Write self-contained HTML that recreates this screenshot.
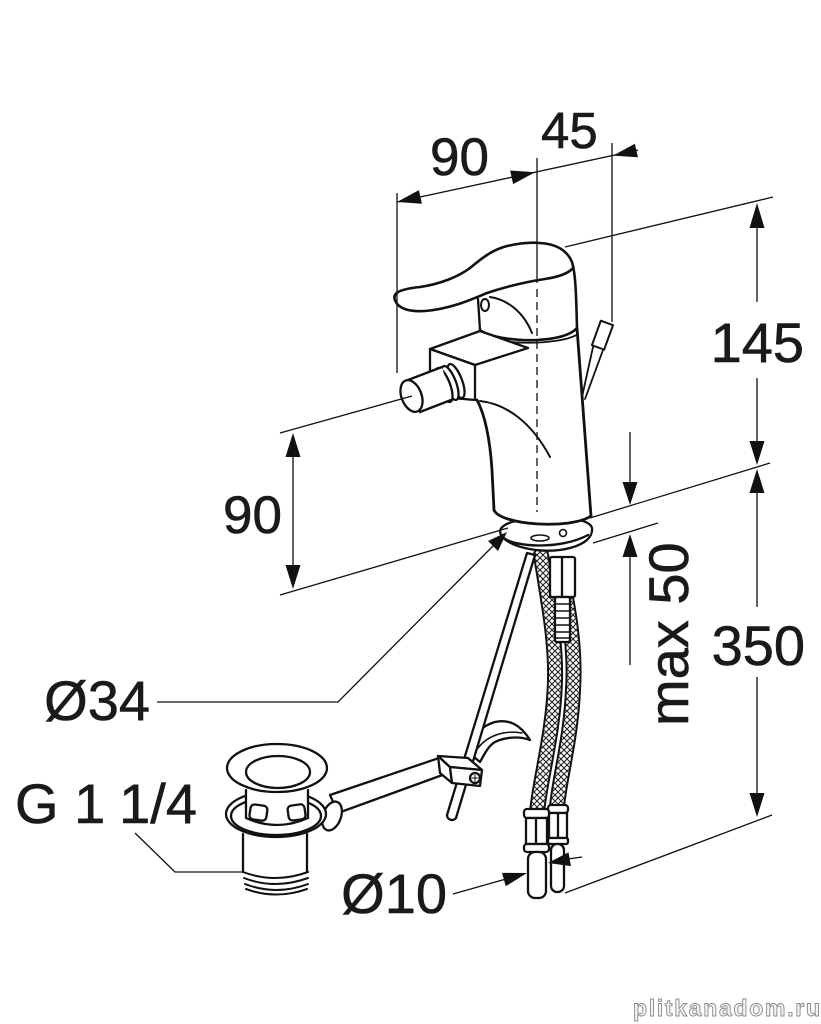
<!DOCTYPE html>
<html><head><meta charset="utf-8"><style>
html,body{margin:0;padding:0;background:#fff;}
svg{display:block}
text{font-family:"Liberation Sans",Arial,sans-serif;fill:#1a1a1a}
.lb{stroke:#1a1a1a;stroke-width:0.6}
</style></head><body>
<svg width="821" height="1024" viewBox="0 0 821 1024" xmlns="http://www.w3.org/2000/svg">
<defs>
<pattern id="hx" width="6" height="6" patternUnits="userSpaceOnUse">
<path d="M0,0L6,6M6,0L0,6" stroke="#222" stroke-width="1.1"/>
</pattern>
</defs>
<rect width="821" height="1024" fill="#fff"/>

<!-- ========== lower parts ========== -->
<g stroke="#111" stroke-width="2.3" fill="#fff" stroke-linejoin="round" stroke-linecap="round">
 <!-- hoses -->
 <path d="M566,598 C572,630 575,660 573,690 C571,740 558,785 557,808" fill="none" stroke-width="16"/>
 <path d="M566,598 C572,630 575,660 573,690 C571,740 558,785 557,808" fill="none" stroke="#fff" stroke-width="12"/>
 <path d="M566,598 C572,630 575,660 573,690 C571,740 558,785 557,808" fill="none" stroke="url(#hx)" stroke-width="12"/>
 <path d="M541,555 C548,600 556,640 555,680 C554,730 540,780 537,812" fill="none" stroke-width="16"/>
 <path d="M541,555 C548,600 556,640 555,680 C554,730 540,780 537,812" fill="none" stroke="#fff" stroke-width="12"/>
 <path d="M541,555 C548,600 556,640 555,680 C554,730 540,780 537,812" fill="none" stroke="url(#hx)" stroke-width="12"/>

 <!-- top nut and thread -->
 <rect x="550" y="557" width="25" height="40" rx="2"/>
 <line x1="562" y1="558" x2="562" y2="596"/>
 <rect x="555" y="597" width="15" height="45" rx="2"/>
 <g fill="none" stroke-width="1.6">
  <line x1="555" y1="604" x2="570" y2="604"/><line x1="555" y1="611" x2="570" y2="611"/>
  <line x1="555" y1="618" x2="570" y2="618"/><line x1="555" y1="625" x2="570" y2="625"/>
  <line x1="555" y1="632" x2="570" y2="632"/><line x1="555" y1="638" x2="570" y2="638"/>
 </g>

 <!-- bottom fittings -->
 <rect x="548" y="805" width="20" height="8" rx="3"/>
 <rect x="549" y="813" width="18" height="25"/>
 <line x1="558" y1="814" x2="558" y2="837"/>
 <rect x="548" y="838" width="20" height="6" rx="2"/>
 <rect x="551" y="844" width="13" height="48" rx="6"/>
 <rect x="524" y="809" width="25" height="9" rx="3"/>
 <rect x="526" y="818" width="21" height="26"/>
 <line x1="536" y1="819" x2="536" y2="843"/>
 <rect x="524" y="844" width="25" height="8" rx="3"/>
 <rect x="528" y="852" width="18" height="46" rx="7"/>

 <!-- clip tab -->
 <path d="M468,752 C472,738 480,726 495,722 C508,719 520,724 530,740 C520,736 505,737 495,742 C488,746 484,755 480,762 Z"/>
 <path d="M478,748 C488,735 505,730 522,733" fill="none" stroke-width="1.5"/>

 <!-- pop-up rod -->
 <path d="M527,553 L447,815 A5,5 0 0 0 456,818 L535,555 Z"/>

 <!-- horizontal rod -->
 <path d="M330,795 L442,757 L448,773 L338,813 Z"/>

 <!-- clamp -->
 <path d="M438,756 L450,767 L452,783 L440,773 Z"/>
 <path d="M438,756 L468,758 L482,770 L450,767 Z"/>
 <path d="M450,767 L482,770 L480,786 L452,783 Z"/>
 <circle cx="475" cy="778" r="5"/>
 <path d="M472,778 L478,778 M475,775 L475,781" fill="none" stroke-width="1"/>

 <!-- drain -->
 <rect x="243" y="834" width="64" height="40" stroke="none"/>
 <path d="M243,834 L243,872 M307,834 L307,872" fill="none"/>
 <path d="M243,872 Q275,884 308,872 M244,878 Q275,890 308,878 M245,884 Q276,896 308,884 M246,889 Q276,900 307,889" fill="none" stroke-width="2"/>
 <ellipse cx="332" cy="816" rx="9" ry="15" transform="rotate(20 332 816)"/>
 <ellipse cx="276" cy="814" rx="50" ry="23"/>
 <ellipse cx="276" cy="816" rx="45" ry="19" fill="none"/>
 <rect x="246" y="788" width="62" height="30" stroke="none"/>
 <path d="M246,790 L246,818 Q277,832 308,818 L308,790" fill="none"/>
 <rect x="250" y="805" width="17" height="15" rx="4" transform="rotate(8 258 812)"/>
 <rect x="288" y="805" width="17" height="15" rx="4" transform="rotate(-8 296 812)"/>
 <ellipse cx="277" cy="768" rx="50" ry="24"/>
 <ellipse cx="278" cy="772" rx="32" ry="16" fill="none"/>

 <!-- lift rod behind -->
 <path d="M593,347 L582,397 M603,350 L585,399" fill="none" stroke-width="1.8"/>
 <rect x="596" y="322" width="13" height="26" transform="rotate(20 602 335)" stroke-width="2"/>

 <!-- flange -->
 <path d="M500,531 C502,521 530,517 548,517 C570,517 590,520 592,528 C593,537 585,544 570,548 C540,556 500,545 500,531 Z"/>
 <path d="M504,538 C515,547 560,550 588,535" fill="none"/>

 <!-- body -->
 <path d="M480,330 L578,330 L591,516 C570,530 500,525 494,510 L492,470 C490,440 485,415 477,400 Z" stroke="none"/>
 <path d="M577,328 L591,516" fill="none" stroke-width="2.8"/>
 <path d="M494,510 C500,525 570,530 591,516" fill="none" stroke-width="2.8"/>
 <path d="M477,400 C485,415 490,440 492,470 L494,510" fill="none" stroke-width="2.8"/>
 <path d="M480,401 C507,404 532,423 550,457" fill="none" stroke-width="2"/>
 <ellipse cx="540" cy="538" rx="9" ry="3" fill="none" stroke-width="1.6"/>
 <circle cx="563" cy="533" r="3.5" fill="none" stroke-width="1.6"/>

 <!-- cap -->
 <path d="M478,296 L575,288 L577,328 C570,336 555,339 537,340 C520,341 490,338 480,330 Z" stroke="none"/>
 <path d="M478,299 L480,330" fill="none"/>
 <path d="M480,330 C490,338 520,341 537,340 C555,339 570,336 577,328" fill="none" stroke-width="2.6"/>
 <path d="M481,335 C495,345 560,346 578,334" fill="none" stroke-width="1.8"/>

 <!-- lever -->
 <path d="M395,300 C392,293 400,289 420,287 C440,284 458,277 470,268 C482,258 492,250 507,246 C520,243 530,242 540,243 C556,244 567,250 572,262 C575,272 576,285 577,328" fill="none" stroke-width="2.6"/>
 <path d="M395,300 C398,309 410,312 425,311 C450,309 470,300 487,293 C505,287 525,282 545,279 C558,277 568,274 573,268" fill="none" stroke-width="2.6"/>
 <ellipse cx="485" cy="305" rx="4" ry="6" stroke-width="2"/>
 <path d="M490,297 C510,300 525,315 532,333" fill="none" stroke-width="2"/>

 <!-- housing box -->
 <path d="M430,349 L480,331 L528,348 L475,365 Z"/>
 <path d="M430,349 L475,365 L475,400 L452,398 L430,370 Z"/>
 <!-- collar rings -->
 <ellipse cx="456" cy="381" rx="6" ry="18" transform="rotate(-21 456 381)"/>
 <ellipse cx="450" cy="383" rx="6" ry="18" transform="rotate(-21 450 383)"/>
 <ellipse cx="444" cy="385" rx="6" ry="18" transform="rotate(-21 444 385)"/>
 <!-- nozzle -->
 <path d="M408,380 L442,367 L451,400 L420,412 Z" stroke="none"/>
 <path d="M408,380 L442,367 M420,412 L451,400" fill="none"/>
 <ellipse cx="411.5" cy="396" rx="10" ry="16.5" transform="rotate(-21 411.5 396)"/>
</g>

<!-- ========== dimension lines ========== -->
<g stroke="#111" stroke-width="1.3" fill="none">
 <line x1="397" y1="193" x2="397" y2="373"/>
 <line x1="537" y1="158" x2="537" y2="283"/>
 <line x1="537" y1="289" x2="537" y2="512" stroke-dasharray="8,5"/>
 <line x1="612" y1="143" x2="612" y2="322"/>
 <line x1="397" y1="202" x2="638" y2="150"/>
 <line x1="565" y1="247" x2="773" y2="197"/>
 <line x1="590" y1="518" x2="770" y2="463"/>
 <line x1="593" y1="543" x2="658" y2="523"/>
 <line x1="565" y1="893" x2="772" y2="815"/>
 <line x1="280" y1="433" x2="412" y2="396"/>
 <line x1="280" y1="595" x2="508" y2="528"/>
 <line x1="757" y1="225" x2="757" y2="302"/>
 <line x1="757" y1="378" x2="757" y2="445"/>
 <line x1="757" y1="490" x2="757" y2="607"/>
 <line x1="757" y1="677" x2="757" y2="797"/>
 <line x1="630" y1="432" x2="630" y2="485"/>
 <line x1="630" y1="553" x2="630" y2="665"/>
 <line x1="293" y1="455" x2="293" y2="567"/>
 <polyline points="157,702 338,702 494,545"/>
 <polyline points="135,833 175,872 242,872"/>
 <line x1="453" y1="894" x2="506" y2="879"/>
 <line x1="568" y1="859" x2="582" y2="857"/>
</g>
<g fill="#111">
 <polygon points="397,202 421.9,203.7 418.9,190.1"/>
 <polygon points="535,172.2 513.1,184.1 510.1,170.5"/>
 <polygon points="613,155.6 637.9,157.3 634.9,143.7"/>
 <polygon points="757,203 749.5,228 764.5,228"/>
 <polygon points="757,465 749.5,441 764.5,441"/>
 <polygon points="757,469 749.5,493 764.5,493"/>
 <polygon points="757,817 749.5,793 764.5,793"/>
 <polygon points="630,505 622.5,482 637.5,482"/>
 <polygon points="630,534 622.5,557 637.5,557"/>
 <polygon points="293,433 285.5,457 300.5,457"/>
 <polygon points="293,589 285.5,565 300.5,565"/>
 <polygon points="507,532 498,551 488,541"/>
 <polygon points="527,873 505.8,886.3 502,872.9"/>
 <polygon points="548,863 570.9,866.1 568.5,852.3"/>
</g>

<!-- ========== labels ========== -->
<text class="lb" x="430" y="175" font-size="53">90</text>
<text class="lb" x="541" y="148" font-size="51">45</text>
<text class="lb" x="804" y="362" font-size="56" text-anchor="end">145</text>
<text class="lb" x="805" y="665" font-size="56" text-anchor="end">350</text>
<text class="lb" x="282" y="533" font-size="53" text-anchor="end">90</text>
<text class="lb" x="150" y="720" font-size="56" text-anchor="end">Ø34</text>
<text class="lb" x="15" y="823" font-size="56">G 1</text>
<text class="lb" x="197" y="823" font-size="56" text-anchor="end">1/4</text>
<text class="lb" x="447" y="913" font-size="56" text-anchor="end">Ø10</text>
<text class="lb" transform="translate(688,726) rotate(-90)" font-size="56">max 50</text>

<text x="633" y="1016" font-family="Liberation Mono, monospace" font-weight="bold" font-size="23" style="fill:#f4f4f4" stroke="#8a8a8a" stroke-width="0.9" textLength="187">plitkanadom.ru</text>
</svg>
</body></html>
